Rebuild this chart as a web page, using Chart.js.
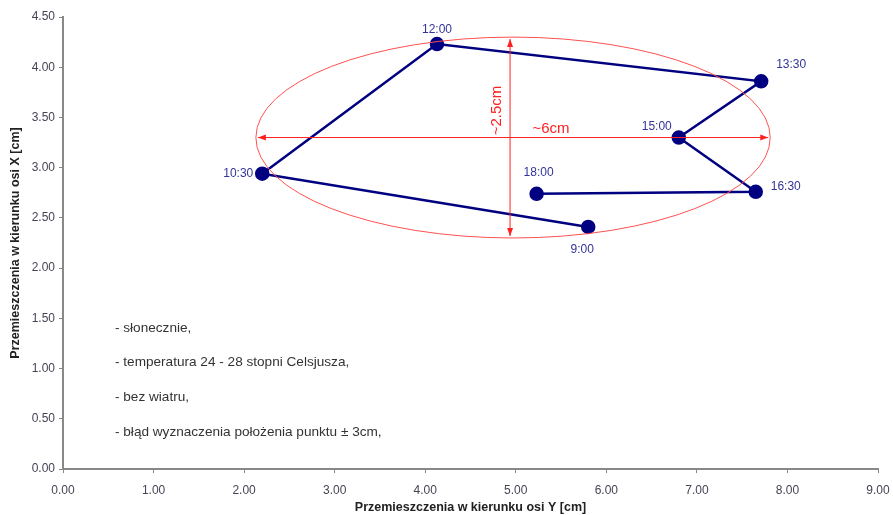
<!DOCTYPE html>
<html>
<head>
<meta charset="utf-8">
<script src="https://cdn.jsdelivr.net/npm/chart.js@4"></script>
<style>
body{margin:0;background:#fff}
#wrap{width:893px;height:515px}
</style>
</head>
<body>
<div id="wrap"><canvas id="chart"></canvas></div>
<script>
// measurements (x = displacement along Y axis, y = along X axis)
let times=["9:00","10:30","12:00","13:30","15:00","16:30","18:00"]
let xVals=[5.80,2.20,4.13,7.71,6.80,7.65,5.23]
let yVals=[2.41,2.94,4.23,3.86,3.30,2.76,2.74]

let notes=[
"- słonecznie,",
"- temperatura 24 - 28 stopni Celsjusza,",
"- bez wiatru,",
"- błąd wyznaczenia położenia punktu ± 3cm,"
]

// spread ellipse (data units)
let ellCenter=[4.97,3.30]
let ellRadius=[2.84,1.00]

let points=xVals.map((x,i)=>({x:x,y:yVals[i]}))

// label offsets in px
let labelPos=[[-6,23],[-24,0],[0,-14],[30,-17],[-22,-11],[30,-5],[2,-21]]

let extras={
id:"extras",
afterDatasetsDraw(chart){
let ctx=chart.ctx
let xs=chart.scales.x, ys=chart.scales.y

// ellipse + arrows
let cx=xs.getPixelForValue(ellCenter[0]), cy=ys.getPixelForValue(ellCenter[1])
let rx=xs.getPixelForValue(ellCenter[0]+ellRadius[0])-cx
let ry=cy-ys.getPixelForValue(ellCenter[1]+ellRadius[1])
ctx.save()
ctx.strokeStyle="#ff5050"
ctx.lineWidth=1
ctx.beginPath()
ctx.ellipse(cx,cy,rx,ry,0,0,Math.PI*2)
ctx.stroke()

ctx.strokeStyle="#ff2020"
ctx.fillStyle="#ff2020"
let vx=cx-3
ctx.beginPath()
ctx.moveTo(cx-rx+2,cy);ctx.lineTo(cx+rx-2,cy)
ctx.moveTo(vx,cy-ry+2);ctx.lineTo(vx,cy+ry-2)
ctx.stroke()
function head(x,y,dx,dy){
ctx.beginPath()
ctx.moveTo(x,y)
ctx.lineTo(x-dx*8-dy*3,y-dy*8-dx*3)
ctx.lineTo(x-dx*8+dy*3,y-dy*8+dx*3)
ctx.closePath();ctx.fill()
}
head(cx-rx+2,cy,-1,0)
head(cx+rx-2,cy,1,0)
head(vx,cy-ry+2,0,-1)
head(vx,cy+ry-2,0,1)

ctx.font="15px 'Liberation Sans', Arial, sans-serif"
ctx.textAlign="center"
ctx.textBaseline="middle"
ctx.fillText("~6cm",cx+38,cy-9)
ctx.save()
ctx.translate(vx-13,cy-27)
ctx.rotate(-Math.PI/2)
ctx.fillText("~2.5cm",0,0)
ctx.restore()

// point labels
ctx.fillStyle="#333399"
ctx.font="12px 'Liberation Sans', Arial, sans-serif"
points.forEach((p,i)=>{
let px=xs.getPixelForValue(p.x), py=ys.getPixelForValue(p.y)
ctx.fillText(times[i],px+labelPos[i][0],py+labelPos[i][1])
})

// notes
ctx.fillStyle="#333333"
ctx.font="13.6px 'Liberation Sans', Arial, sans-serif"
ctx.textAlign="left"
notes.forEach((t,i)=>{
ctx.fillText(t,115,328+i*34.7)
})
ctx.restore()
}
}

let tickFont={family:"'Liberation Sans', Arial, sans-serif",size:12}
let titleFont={family:"'Liberation Sans', Arial, sans-serif",size:12.5,weight:"bold"}

new Chart(document.getElementById("chart"),{
type:"scatter",
data:{
datasets:[{
data:points,
showLine:true,
borderColor:"#000080",
backgroundColor:"#000080",
borderWidth:2.5,
pointRadius:6,
pointHoverRadius:6
}]
},
options:{
responsive:true,
maintainAspectRatio:false,
animation:false,
layout:{padding:{top:17,right:15,left:0,bottom:0}},
plugins:{legend:{display:false},tooltip:{enabled:false}},
scales:{
x:{
type:"linear",
min:0,max:9,
afterFit(s){s.height=46;s.paddingRight=0},
ticks:{stepSize:1,callback:v=>v.toFixed(2),color:"#444455",font:tickFont,padding:10,maxRotation:0},
grid:{drawOnChartArea:false,tickLength:4,color:"#888"},
border:{color:"#888",width:2},
title:{display:true,text:"Przemieszczenia w kierunku osi Y [cm]",color:"#222",font:titleFont,padding:{top:0,bottom:0}}
},
y:{
type:"linear",
min:0,max:4.5,
afterFit(s){s.width=63},
ticks:{stepSize:0.5,callback:v=>v.toFixed(2),color:"#444455",font:tickFont,padding:4},
grid:{drawOnChartArea:false,tickLength:4,color:"#888"},
border:{color:"#888",width:2},
title:{display:true,text:"Przemieszczenia w kierunku osi X [cm]",color:"#222",font:titleFont,padding:{bottom:0,top:8}}
}
}
},
plugins:[extras]
})
</script>
</body>
</html>
